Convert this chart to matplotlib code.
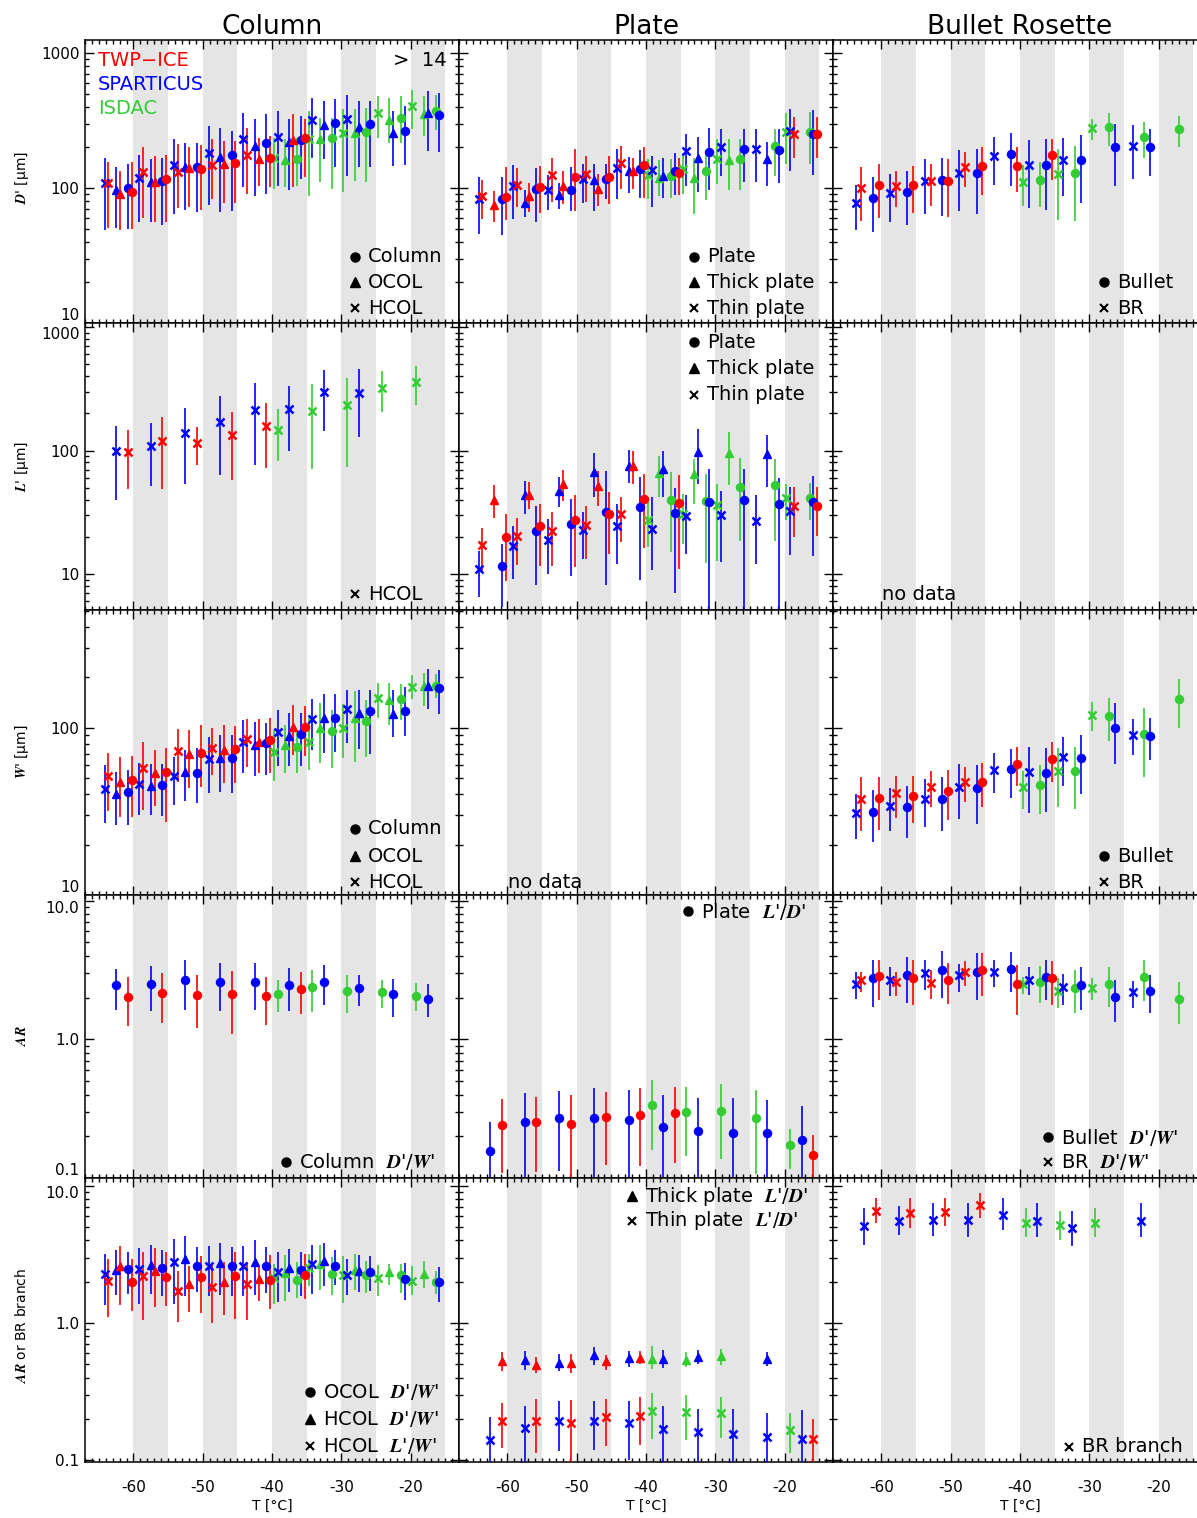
import numpy as np
import matplotlib
matplotlib.use('Agg')
import matplotlib.pyplot as plt
from matplotlib.ticker import FixedLocator, LogLocator, MultipleLocator, NullFormatter, FuncFormatter

plt.rcParams['font.family'] = ['DejaVu Sans']
plt.rcParams['mathtext.fontset'] = 'stix'

N = None
# temperature bins (deg C), one value per bin; tuples are (median, low, high)
T_BINS = [-62.5, -57.5, -52.5, -47.5, -42.5, -37.5, -32.5, -27.5, -22.5, -17.5]
GREY_BANDS = [(-60, -55), (-50, -45), (-40, -35), (-30, -25), (-20, -15)]

# ---- row 1: D' [um]
COLDP_C_TWP = [(94, 50, 155), (116, 56, 175), (138, 69, 207), (152, 77, 223), (168, 101, 243), (236, 120, 323), N, N, N, N]
COLDP_C_SPA = [(100, 50, 150), (113, 53, 168), (144, 66, 217), (176, 68, 265), (215, 90, 351), (226, 116, 341), (301, 142, 453), (300, 142, 440), (265, 148, 404), (347, 185, 507)]
COLDP_C_ISD = [N, N, N, N, N, (165, 104, 236), (235, 98, 332), (260, 110, 393), (332, 217, 479), (372, 269, 493)]
COLDP_T_TWP = [(91, 49, 134), (110, 56, 173), (140, 72, 200), (150, 78, 223), (164, 104, 236), (226, 101, 351), N, N, N, N]
COLDP_T_SPA = [(96, 51, 142), (110, 56, 165), (142, 69, 217), (171, 67, 280), (205, 88, 326), (220, 96, 323), (291, 164, 440), (285, 142, 440), (254, 146, 372), (357, 188, 522)]
COLDP_T_ISD = [N, N, N, N, N, (161, 101, 230), (232, 110, 332), (257, 113, 382), (319, 217, 466), (351, 243, 479)]
COLDP_X_TWP = [(109, 51, 156), (132, 60, 200), (132, 71, 211), (148, 83, 230), (176, 90, 280), N, N, N, N, N]
COLDP_X_SPA = [(109, 49, 168), (118, 56, 175), (148, 64, 232), (183, 75, 288), (232, 101, 361), (239, 104, 372), (319, 168, 466), (326, 123, 493), N, N]
COLDP_X_ISD = [N, N, N, N, N, (166, 98, 236), (232, 88, 372), (254, 94, 382), (357, 236, 479), (404, 275, 537)]

PLDP_C_TWP = [(86, 58, 142), (102, 65, 146), (121, 68, 194), (121, 76, 173), (149, 85, 200), (129, 89, 168), N, N, N, (253, 168, 336)]
PLDP_C_SPA = [(83, 45, 120), (98, 56, 140), (96, 68, 142), (116, 83, 150), (138, 85, 192), (134, 89, 181), (185, 96, 280), (196, 110, 272), (191, 109, 275), (250, 125, 376)]
PLDP_C_ISD = [N, N, N, N, N, (123, 84, 164), (133, 82, 188), (164, 96, 230), (205, 123, 275), (260, 150, 366)]
PLDP_T_TWP = [(75, 56, 95), (88, 67, 109), (104, 76, 133), (98, 74, 127), (134, 99, 168), N, N, N, N, N]
PLDP_T_SPA = [N, (78, 61, 96), (89, 70, 109), (115, 68, 150), (134, 92, 171), (123, 85, 168), (166, 93, 240), N, (165, 103, 219), N]
PLDP_T_ISD = [N, N, N, N, N, (118, 87, 162), (118, 64, 168), (161, 96, 230), N, N]
PLDP_X_TWP = [(88, 59, 115), (105, 72, 140), (125, 79, 166), (127, 79, 173), (153, 98, 205), N, N, N, N, (253, 168, 336)]
PLDP_X_SPA = [(83, 46, 120), (104, 59, 148), (97, 69, 125), (116, 78, 150), (140, 83, 196), (136, 72, 173), (188, 104, 253), (200, 123, 275), (196, 110, 275), (265, 134, 387)]
PLDP_X_ISD = [N, N, N, N, N, (125, 83, 164), (138, 90, 183), (165, 107, 230), N, (260, 150, 361)]

BRDP_C_TWP = [(106, 60, 150), (106, 65, 146), (113, 61, 165), (146, 89, 203), (146, 94, 200), (175, 115, 232), N, N, N, N]
BRDP_C_SPA = [(84, 47, 120), (94, 53, 133), (115, 62, 166), (129, 64, 194), (180, 103, 257), (149, 69, 230), (162, 77, 246), (202, 104, 300), (200, 122, 275), N]
BRDP_C_ISD = [N, N, N, N, N, (115, 72, 156), (130, 57, 205), (285, 205, 361), (239, 168, 309), (272, 202, 341)]
BRDP_X_TWP = [(100, 57, 144), (104, 72, 133), (113, 74, 150), (144, 102, 186), N, N, N, N, N, N]
BRDP_X_SPA = [(78, 49, 106), (92, 56, 127), (113, 64, 164), (129, 68, 191), (173, 105, 240), (149, 71, 227), (162, 87, 234), N, (205, 116, 291), N]
BRDP_X_ISD = [N, N, N, N, N, (111, 74, 148), (128, 58, 196), (280, 227, 326), N, N]

# ---- row 2: L' [um]
COLL_X_TWP = [(97, 49, 147), (119, 49, 188), (115, 76, 156), (134, 58, 207), (158, 72, 242), N, N, N, N, N]
COLL_X_SPA = [(99, 40, 158), (108, 52, 167), (138, 54, 222), (170, 63, 279), (214, 76, 354), (215, 99, 332), (297, 143, 446), (292, 128, 454), N, N]
COLL_X_ISD = [N, N, N, N, N, (148, 82, 215), (208, 71, 347), (232, 74, 388), (322, 204, 437), (358, 234, 483)]

PLL_C_TWP = [(19.8, 8.7, 30.6), (24.3, 11.5, 37), (27.6, 11.3, 43.7), (30.6, 14.5, 46), (40.6, 16.2, 64), (37.4, 11, 63), N, N, N, (35.4, 20.2, 50.5)]
PLL_C_SPA = [(11.7, 5.4, 17.5), (22.2, 8.2, 35.8), (25.4, 9.7, 40.5), (31.6, 8.1, 68.8), (35.1, 9.0, 60.8), (31, 7.0, 49.5), (38.6, 4, 71), (39.4, 4, 71), (37, 4, 60), (38, 14, 62)]
PLL_C_ISD = [N, N, N, N, N, (40, 15, 66.7), (38.8, 12.2, 64.7), (50.5, 18.6, 87.2), (53, 18.4, 85.6), (41.3, 27.1, 54.4)]
PLL_T_TWP = [(40, 28.4, 53), (44, 33.6, 55.4), (53.7, 39.3, 69.7), (52, 35.8, 68), (75.5, 53.7, 100), N, N, N, N, N]
PLL_T_SPA = [N, (43.2, 30.6, 57), (47.4, 35, 60.8), (67.6, 42.4, 95), (75.5, 54.4, 101), (71, 42.4, 100), (97, 53.7, 150), N, (93, 51, 134), N]
PLL_T_ISD = [N, N, N, N, N, (66, 42.4, 91), (64.7, 37, 85.6), (95, 53, 141), N, N]
PLL_X_TWP = [(17, 10.1, 23.6), (20.2, 11.9, 28.4), (22.2, 11.5, 31.6), (25, 13.1, 35.8), (30.6, 18.1, 42.4), N, N, N, N, (35.4, 19.8, 50.5)]
PLL_X_SPA = [(11, 6.5, 15.2), (16.8, 9.1, 24.4), (18.9, 10, 27.9), (22.5, 13.3, 31.6), (24.6, 12, 37), (23.2, 10.8, 42.4), (29.2, 14.5, 43.2), (30, 12.6, 46.8), (27, 12, 43.2), (32.6, 14.3, 50.5)]
PLL_X_ISD = [N, N, N, N, N, (27.4, 16.4, 38.2), (30.6, 17.5, 44.6), (36.5, 12.8, 53.7), N, (41.3, 27.1, 53.7)]

# ---- row 3: W' [um]
COLW_C_TWP = [(48.7, 29.4, 67.7), (54.6, 27.4, 75.9), (70.2, 44.4, 104), (74.6, 46.5, 103), (84.4, 53.3, 114), (101, 68, 135), N, N, N, N]
COLW_C_SPA = [(41, 26.2, 55.8), (45.4, 29.8, 60.6), (53.9, 35.6, 75.2), (66.2, 40.9, 90.4), (80.6, 52.1, 107), (91.6, 59, 123), (114, 71.9, 159), (126, 69.6, 169), (125, 89, 176), (172, 121, 221)]
COLW_C_ISD = [N, N, N, N, N, (77, 53.3, 96.8), (95.5, 57.2, 127), (110, 67, 146), (148, 111, 182), (177, 150, 208)]
COLW_T_TWP = [(47.6, 29.1, 67), (53.9, 34, 73.6), (69.6, 43.4, 96.8), (73.5, 46.5, 104), (82.5, 53.3, 112), (101, 68.7, 137), N, N, N, N]
COLW_T_SPA = [(40.1, 26.2, 54.6), (44.8, 30, 60.4), (54.1, 36.6, 73.6), (65.6, 41.5, 90.4), (78.8, 51.4, 108), (89.2, 59, 122), (114, 70.2, 158), (122, 74.2, 168), (121, 88.3, 168), (177, 129, 224)]
COLW_T_ISD = [N, N, N, N, N, (78.8, 53.3, 104), (100, 61.7, 140), (114, 62.6, 166), (146, 104, 186), (177, 134, 211)]
COLW_X_TWP = [(51.6, 31.9, 70.9), (57.7, 32.2, 82.5), (72.5, 47.6, 97.7), (75.2, 52, 99), (85.5, 58.5, 112), N, N, N, N, N]
COLW_X_SPA = [(43, 26.8, 59.9), (46.1, 30, 61.2), (51.6, 34.5, 67), (64.7, 40.5, 88.3), (82.5, 53.8, 111), (94.6, 59, 127), (112, 73.5, 148), (130, 80.6, 168), N, N]
COLW_X_ISD = [N, N, N, N, N, (71.2, 48, 96.8), (82.5, 55.8, 114), (99, 65.6, 139), (150, 114, 184), (176, 148, 207)]

BRW_C_TWP = [(37.8, 24.5, 50.9), (39.2, 27.1, 51.6), (42, 28, 55.8), (47.3, 33.4, 61.2), (60.7, 45, 76.3), (65, 47.1, 82.5), N, N, N, N]
BRW_C_SPA = [(31.5, 20.6, 42.4), (33.4, 22, 45), (37.3, 24, 50.9), (43.4, 26.5, 59.9), (56.4, 37.8, 74.6), (53.9, 31.5, 75.2), (66.2, 40.1, 90.4), (100, 60.7, 140), (89.2, 64, 114), N]
BRW_C_ISD = [N, N, N, N, N, (45.4, 30.5, 59.9), (55.1, 32.7, 77), (117, 83.2, 151), (91.6, 50.9, 132), (148, 100, 196)]
BRW_X_TWP = [(37.3, 24, 50.9), (40.5, 29, 51.6), (44, 33.4, 55.1), (47.6, 35.8, 58.5), N, N, N, N, N, N]
BRW_X_SPA = [(30.8, 21.5, 40.1), (34, 24.1, 43.8), (37.5, 25.6, 49.1), (44.4, 28.3, 60.4), (55.8, 40.5, 70.2), (54.1, 31, 77), (67, 45, 87.5), N, (90.4, 68.7, 112), N]
BRW_X_ISD = [N, N, N, N, N, (44, 32.5, 55.4), (55.1, 33.7, 75.9), (119, 96, 142), N, N]

# ---- row 4: AR
COLAR_C_TWP = [(2.03, 1.25, 2.81), (2.17, 1.32, 3.02), (2.08, 1.2, 2.93), (2.11, 1.1, 3.1), (2.05, 1.28, 2.81), (2.31, 1.53, 3.07), N, N, N, N]
COLAR_C_SPA = [(2.45, 1.62, 3.24), (2.51, 1.6, 3.4), (2.67, 1.62, 3.72), (2.6, 1.6, 3.56), (2.6, 1.62, 3.56), (2.45, 1.6, 3.28), (2.6, 1.76, 3.43), (2.33, 1.74, 2.93), (2.11, 1.45, 2.73), (1.96, 1.45, 2.49)]
COLAR_C_ISD = [N, N, N, N, N, (2.14, 1.57, 2.7), (2.38, 1.58, 3.14), (2.25, 1.55, 2.9), (2.2, 1.69, 2.67), (2.07, 1.6, 2.53)]

PLAR_C_TWP = [(0.24, 0.108, 0.37), (0.252, 0.111, 0.387), (0.245, 0.09, 0.396), (0.276, 0.125, 0.42), (0.284, 0.123, 0.444), (0.292, 0.128, 0.454), N, N, N, (0.147, 0.09, 0.204)]
PLAR_C_SPA = [(0.157, 0.09, 0.252), (0.252, 0.09, 0.41), (0.27, 0.113, 0.425), (0.273, 0.09, 0.444), (0.263, 0.09, 0.43), (0.235, 0.09, 0.396), (0.219, 0.09, 0.377), (0.212, 0.09, 0.377), (0.21, 0.09, 0.367), (0.188, 0.09, 0.328)]
PLAR_C_ISD = [N, N, N, N, N, (0.335, 0.16, 0.507), (0.3, 0.143, 0.454), (0.305, 0.138, 0.475), (0.27, 0.106, 0.43), (0.173, 0.116, 0.225)]

BRAR_C_TWP = [(2.86, 1.91, 3.72), (2.78, 1.78, 3.72), (2.7, 1.81, 3.56), (3.14, 2.05, 4.2), (2.51, 1.51, 3.46), (2.75, 1.77, 3.66), N, N, N, N]
BRAR_C_SPA = [(2.75, 1.72, 3.76), (2.89, 1.82, 3.93), (3.15, 1.99, 4.32), (3.05, 1.91, 4.2), (3.24, 2.2, 4.27), (2.81, 1.92, 3.76), (2.46, 1.63, 3.32), (2.03, 1.33, 2.7), (2.25, 1.55, 2.9), N]
BRAR_C_ISD = [N, N, N, N, N, (2.6, 1.82, 3.37), (2.35, 1.54, 3.14), (2.51, 1.71, 3.32), (2.84, 1.89, 3.76), (1.94, 1.3, 2.58)]
BRAR_X_TWP = [(2.66, 2.2, 3.07), (2.58, 2.05, 3.07), (2.55, 1.94, 3.14), (3.05, 2.42, 3.66), N, N, N, N, N, N]
BRAR_X_SPA = [(2.51, 1.94, 3.07), (2.7, 2.05, 3.32), (3.02, 2.26, 3.76), (2.89, 2.19, 3.52), (3.05, 2.38, 3.72), (2.7, 2.08, 3.32), (2.38, 1.78, 2.97), N, (2.19, 1.69, 2.63), N]
BRAR_X_ISD = [N, N, N, N, N, (2.51, 2.11, 2.82), (2.25, 1.69, 2.78), (2.33, 1.91, 2.75), N, N]

# ---- row 5: AR or BR branch
COLAR2_C_TWP = [(1.99, 1.23, 2.93), (2.15, 1.34, 3.28), (2.15, 1.18, 3.1), (2.19, 1.07, 3.28), (2.07, 1.27, 3.15), (2.23, 1.5, 3.2), N, N, N, N]
COLAR2_C_SPA = [(2.48, 1.63, 3.28), (2.52, 1.57, 3.39), (2.62, 1.68, 3.59), (2.62, 1.58, 3.59), (2.62, 1.66, 3.57), (2.45, 1.57, 3.28), (2.59, 1.9, 3.39), (2.36, 1.7, 3.1), (2.1, 1.48, 2.74), (1.98, 1.42, 2.56)]
COLAR2_C_ISD = [N, N, N, N, N, (2.07, 1.52, 2.77), (2.28, 1.61, 3.01), (2.22, 1.66, 2.85), (2.22, 1.66, 2.71), (1.99, 1.64, 2.38)]
COLAR2_T_TWP = [(2.62, 1.36, 3.63), (2.38, 1.3, 3.52), (1.93, 1.2, 2.62), (1.98, 1.15, 2.77), (2.09, 1.44, 2.59), N, N, N, N, N]
COLAR2_T_SPA = [(2.45, 1.61, 3.39), (2.64, 1.63, 3.69), (2.93, 1.58, 4.29), (2.74, 1.61, 3.8), (2.79, 1.61, 4.01), (2.52, 1.67, 3.46), (2.82, 1.85, 3.83), (2.41, 1.67, 3.12), N, N]
COLAR2_T_ISD = [N, N, N, N, N, (2.32, 1.44, 3.12), (2.69, 1.75, 3.73), (2.42, 1.75, 3.2), (2.34, 1.88, 2.69), (2.28, 1.8, 2.82)]
COLAR2_X_TWP = [(2.01, 1.1, 2.93), (2.19, 1.05, 3.28), (1.72, 1.02, 2.41), (1.82, 1.0, 2.71), (1.91, 1.05, 2.79), N, N, N, N, N]
COLAR2_X_SPA = [(2.28, 1.35, 3.19), (2.48, 1.38, 3.53), (2.77, 1.38, 4.1), (2.62, 1.57, 3.67), (2.62, 1.57, 3.63), (2.34, 1.42, 3.28), (2.71, 1.64, 3.73), (2.22, 1.61, 2.93), N, N]
COLAR2_X_ISD = [N, N, N, N, N, (2.13, 1.38, 2.71), (2.52, 1.85, 3.19), (2.25, 1.4, 3.06), (2.13, 1.58, 2.66), (2.04, 1.61, 2.59)]

PLAR2_T_TWP = [(0.525, 0.444, 0.61), (0.497, 0.432, 0.561), (0.51, 0.432, 0.594), (0.525, 0.456, 0.587), (0.555, 0.502, 0.621), N, N, N, N, N]
PLAR2_T_SPA = [N, (0.534, 0.456, 0.628), (0.51, 0.45, 0.594), (0.587, 0.497, 0.668), (0.555, 0.477, 0.628), (0.546, 0.469, 0.632), (0.561, 0.505, 0.639), N, (0.546, 0.483, 0.61), N]
PLAR2_T_ISD = [N, N, N, N, N, (0.546, 0.464, 0.683), (0.54, 0.477, 0.61), (0.571, 0.497, 0.65), N, N]
PLAR2_X_TWP = [(0.193, 0.122, 0.26), (0.194, 0.113, 0.277), (0.186, 0.09, 0.273), (0.206, 0.127, 0.281), (0.209, 0.129, 0.287), N, N, N, N, (0.142, 0.09, 0.199)]
PLAR2_X_SPA = [(0.141, 0.09, 0.205), (0.173, 0.09, 0.247), (0.193, 0.117, 0.268), (0.193, 0.119, 0.268), (0.186, 0.101, 0.268), (0.169, 0.09, 0.247), (0.16, 0.09, 0.237), (0.155, 0.09, 0.237), (0.147, 0.09, 0.22), (0.142, 0.09, 0.233)]
PLAR2_X_ISD = [N, N, N, N, N, (0.227, 0.142, 0.308), (0.223, 0.141, 0.3), (0.22, 0.146, 0.291), N, (0.166, 0.112, 0.22)]

BRBR_X_TWP = [(6.6, 5.4, 8.2), (6.35, 4.9, 8.2), (6.45, 5.1, 8.2), (7.25, 5.8, 8.9), N, N, N, N, N, N]
BRBR_X_SPA = [(5.1, 3.7, 6.9), (5.55, 4.4, 7.1), (5.6, 4.3, 7.5), (5.6, 4.2, 7.5), (6.1, 4.8, 8.2), (5.55, 4.2, 7.5), (4.9, 3.65, 6.6), N, (5.55, 4.2, 7.5), N]
BRBR_X_ISD = [N, N, N, N, N, (5.4, 4.2, 6.9), (5.2, 4.0, 6.6), (5.4, 4.2, 6.9), N, N]

# ---- styling / layout
RED, BLUE, GREEN = '#ff0000', '#0000ff', '#33cc33'
CAMP = [('ISD', GREEN, -1), ('SPA', BLUE, 0), ('TWP', RED, 1)]
MK = {'o': dict(ms=5.8), '^': dict(ms=6.2), 'x': dict(ms=5.2, mew=1.8)}

W, H = 1197, 1518
COL_X = [85, 459, 833]
COL_W = 374
ROW_Y = [40, 323, 610, 895, 1178, 1462]
YLIMS = [(10, 1250), (5.1, 1080), (10, 505), (0.1, 11.0), (0.097, 11.4)]
YMAJ = [[10, 100, 1000], [10, 100, 1000], [10, 100], [0.1, 1, 10], [0.1, 1, 10]]
YFMT = ['%d', '%d', '%d', '%.1f', '%.1f']

fig = plt.figure(figsize=(W / 100, H / 100), dpi=100)


def add_ax(r, c):
    y0, y1 = ROW_Y[r], ROW_Y[r + 1]
    ax = fig.add_axes([COL_X[c] / W, 1 - y1 / H, COL_W / W, (y1 - y0) / H])
    for lo, hi in GREY_BANDS:
        ax.axvspan(lo, hi, color='#e5e5e5', lw=0, zorder=0)
    ax.set_xlim(-67, -13)
    ax.set_yscale('log')
    ax.set_ylim(*YLIMS[r])
    ax.xaxis.set_major_locator(MultipleLocator(10))
    ax.xaxis.set_minor_locator(MultipleLocator(1))
    ax.yaxis.set_major_locator(FixedLocator(YMAJ[r]))
    ax.yaxis.set_minor_locator(LogLocator(base=10, subs=np.arange(2, 10), numticks=30))
    ax.yaxis.set_minor_formatter(NullFormatter())
    fmt = YFMT[r]
    if c == 0:
        ax.yaxis.set_major_formatter(FuncFormatter(lambda v, p: fmt % v))
    else:
        ax.yaxis.set_major_formatter(NullFormatter())
    if r == 4:
        ax.xaxis.set_major_formatter(FuncFormatter(lambda v, p: '%d' % v))
    else:
        ax.xaxis.set_major_formatter(NullFormatter())
    ax.tick_params(which='both', direction='in', top=True, right=True, width=1.0, labelsize=11)
    ax.tick_params(which='major', length=6.5)
    ax.tick_params(which='minor', length=3)
    ax.tick_params(axis='x', pad=13)
    ax.tick_params(axis='y', pad=4)
    for sp in ax.spines.values():
        sp.set_linewidth(1.1)
    if c == 0:
        # labels sitting on a shared panel edge are nudged apart, as in the original
        lo, hi = YLIMS[r]
        for tick, loc in zip(ax.yaxis.get_major_ticks(), YMAJ[r]):
            if r < 4 and abs(np.log10(loc / lo)) < 0.02:
                tick.label1.set_va('bottom')
            elif r > 0 and abs(np.log10(hi / loc)) < 0.06:
                tick.label1.set_va('top')
    return ax


def draw(ax, marker, series, slot, nslot):
    s = 5.0 / nslot
    shape_off = (slot - (nslot - 1) / 2.0) * s
    for (name, color, k), data in zip(CAMP, series):
        xs, mid, lo, hi = [], [], [], []
        for t, d in zip(T_BINS, data):
            if d is None:
                continue
            xs.append(t + shape_off + k * s / 3.0)
            mid.append(d[0]); lo.append(d[1]); hi.append(d[2])
        if not xs:
            continue
        mid = np.array(mid); lo = np.array(lo); hi = np.array(hi)
        ax.errorbar(xs, mid, yerr=[mid - lo, hi - mid], fmt=marker, color=color,
                    elinewidth=1.2, capsize=0, zorder=3, **MK[marker])


axes = [[add_ax(r, c) for c in range(3)] for r in range(5)]

# row 1
a = axes[0][0]
draw(a, 'x', (COLDP_X_ISD, COLDP_X_SPA, COLDP_X_TWP), 0, 3)
draw(a, '^', (COLDP_T_ISD, COLDP_T_SPA, COLDP_T_TWP), 1, 3)
draw(a, 'o', (COLDP_C_ISD, COLDP_C_SPA, COLDP_C_TWP), 2, 3)
a = axes[0][1]
draw(a, 'x', (PLDP_X_ISD, PLDP_X_SPA, PLDP_X_TWP), 0, 3)
draw(a, '^', (PLDP_T_ISD, PLDP_T_SPA, PLDP_T_TWP), 1, 3)
draw(a, 'o', (PLDP_C_ISD, PLDP_C_SPA, PLDP_C_TWP), 2, 3)
a = axes[0][2]
draw(a, 'x', (BRDP_X_ISD, BRDP_X_SPA, BRDP_X_TWP), 0, 2)
draw(a, 'o', (BRDP_C_ISD, BRDP_C_SPA, BRDP_C_TWP), 1, 2)
# row 2
draw(axes[1][0], 'x', (COLL_X_ISD, COLL_X_SPA, COLL_X_TWP), 0, 1)
a = axes[1][1]
draw(a, 'x', (PLL_X_ISD, PLL_X_SPA, PLL_X_TWP), 0, 3)
draw(a, '^', (PLL_T_ISD, PLL_T_SPA, PLL_T_TWP), 1, 3)
draw(a, 'o', (PLL_C_ISD, PLL_C_SPA, PLL_C_TWP), 2, 3)
# row 3
a = axes[2][0]
draw(a, 'x', (COLW_X_ISD, COLW_X_SPA, COLW_X_TWP), 0, 3)
draw(a, '^', (COLW_T_ISD, COLW_T_SPA, COLW_T_TWP), 1, 3)
draw(a, 'o', (COLW_C_ISD, COLW_C_SPA, COLW_C_TWP), 2, 3)
a = axes[2][2]
draw(a, 'x', (BRW_X_ISD, BRW_X_SPA, BRW_X_TWP), 0, 2)
draw(a, 'o', (BRW_C_ISD, BRW_C_SPA, BRW_C_TWP), 1, 2)
# row 4
draw(axes[3][0], 'o', (COLAR_C_ISD, COLAR_C_SPA, COLAR_C_TWP), 0, 1)
draw(axes[3][1], 'o', (PLAR_C_ISD, PLAR_C_SPA, PLAR_C_TWP), 0, 1)
a = axes[3][2]
draw(a, 'x', (BRAR_X_ISD, BRAR_X_SPA, BRAR_X_TWP), 0, 2)
draw(a, 'o', (BRAR_C_ISD, BRAR_C_SPA, BRAR_C_TWP), 1, 2)
# row 5
a = axes[4][0]
draw(a, 'x', (COLAR2_X_ISD, COLAR2_X_SPA, COLAR2_X_TWP), 0, 3)
draw(a, '^', (COLAR2_T_ISD, COLAR2_T_SPA, COLAR2_T_TWP), 1, 3)
draw(a, 'o', (COLAR2_C_ISD, COLAR2_C_SPA, COLAR2_C_TWP), 2, 3)
a = axes[4][1]
draw(a, '^', (PLAR2_T_ISD, PLAR2_T_SPA, PLAR2_T_TWP), 0, 1)
draw(a, 'x', (PLAR2_X_ISD, PLAR2_X_SPA, PLAR2_X_TWP), 0, 1)
draw(axes[4][2], 'x', (BRBR_X_ISD, BRBR_X_SPA, BRBR_X_TWP), 0, 1)

# ---- overlay for titles, labels and legends (pixel coordinates)
ov = fig.add_axes([0, 0, 1, 1], zorder=10)
ov.set_xlim(0, W)
ov.set_ylim(H, 0)
ov.axis('off')
ov.patch.set_alpha(0)

for x, t in zip([272, 646, 1020], ['Column', 'Plate', 'Bullet Rosette']):
    ov.text(x, 27, t, ha='center', va='center', fontsize=19)
    ov.text(x, 1506, 'T [°C]', ha='center', va='center', fontsize=10)

ylabels = [r"$\mathbfit{D}$' [μm]", r"$\mathbfit{L}$' [μm]", r"$\mathbfit{W}$' [μm]",
           r"$\mathbfit{AR}$", r"$\mathbfit{AR}$ or BR branch"]
for yc, lab in zip([178, 466, 752, 1036, 1325], ylabels):
    ov.text(22, yc, lab, rotation=90, ha='center', va='center', fontsize=10)

ov.text(98, 60, 'TWP\u2212ICE', color=RED, fontsize=14, va='center')
ov.text(98, 84, 'SPARTICUS', color=BLUE, fontsize=14, va='center')
ov.text(98, 108, 'ISDAC', color=GREEN, fontsize=14, va='center')
ov.text(447, 60, '>  14', ha='right', va='center', fontsize=14)

LEG_MK = {'o': dict(ms=6.5), '^': dict(ms=6.5), 'x': dict(ms=6, mew=1.5)}


def legend(xm, entries):
    for y, m, lab in entries:
        ov.plot([xm], [y], m, color='k', **LEG_MK[m])
        ov.text(xm + 13, y, lab, va='center', fontsize=14)


DW = r"  $\mathbfit{D}$'/$\mathbfit{W}$'"
LD = r"  $\mathbfit{L}$'/$\mathbfit{D}$'"
LW = r"  $\mathbfit{L}$'/$\mathbfit{W}$'"
legend(355, [(257, 'o', 'Column'), (282, '^', 'OCOL'), (308, 'x', 'HCOL')])
legend(694, [(257, 'o', 'Plate'), (282, '^', 'Thick plate'), (308, 'x', 'Thin plate')])
legend(1104, [(282, 'o', 'Bullet'), (308, 'x', 'BR')])
legend(355, [(594, 'x', 'HCOL')])
legend(694, [(342, 'o', 'Plate'), (368, '^', 'Thick plate'), (395, 'x', 'Thin plate')])
ov.text(882, 594, 'no data', va='center', fontsize=14)
legend(355, [(829, 'o', 'Column'), (856, '^', 'OCOL'), (882, 'x', 'HCOL')])
ov.text(508, 882, 'no data', va='center', fontsize=14)
legend(1104, [(856, 'o', 'Bullet'), (882, 'x', 'BR')])
legend(286, [(1162, 'o', 'Column' + DW)])
legend(688, [(911, 'o', 'Plate' + LD)])
legend(1048, [(1137, 'o', 'Bullet' + DW), (1162, 'x', 'BR' + DW)])
legend(310, [(1392, 'o', 'OCOL' + DW), (1419, '^', 'HCOL' + DW), (1446, 'x', 'HCOL' + LW)])
legend(632, [(1196, '^', 'Thick plate' + LD), (1221, 'x', 'Thin plate' + LD)])
legend(1069, [(1447, 'x', 'BR branch')])

fig.savefig('out.png', dpi=100)
